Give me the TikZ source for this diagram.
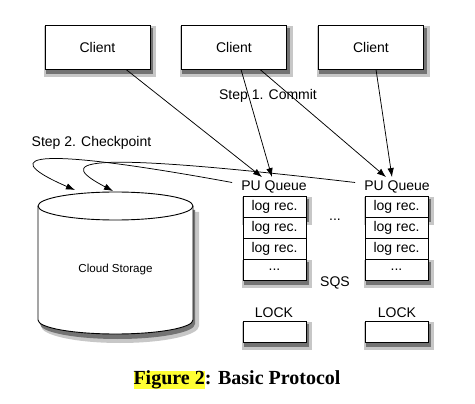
\documentclass[tikz,border=0pt]{standalone}
\usepackage{fontspec}
\setmainfont{Liberation Sans}
\newfontfamily\capfont{Liberation Serif}
\usetikzlibrary{backgrounds,arrows.meta}
\definecolor{marca}{HTML}{FFFF33}
\begin{document}
\begin{tikzpicture}[x=1pt, y=-1pt,
    every node/.style={font=\fontsize{14}{16}\selectfont, align=center},
    cliente/.style={draw, line width=0.9pt, fill=white, minimum width=105pt, minimum height=44pt},
    celda/.style={draw, line width=0.9pt, fill=white, minimum width=63pt, minimum height=21pt, inner sep=0pt},
    etiqueta/.style={inner sep=1pt},
    sombra/.style={fill=black!55, draw=none},
    sombrasuave/.style={fill=black!22, draw=none},
    flecha/.style={-{Latex[length=9pt,width=6.5pt]}, line width=0.75pt}
  ]
  \useasboundingbox (0,0) rectangle (475,404);
  % clientes
  \node[cliente] (cli1) at (97.5,47) {Client};
  \node[cliente] (cli2) at (234,47)  {Client};
  \node[cliente] (cli3) at (371,47)  {Client};
  % almacenamiento
  \fill[sombrasuave] (41,212) -- (41,326) arc[start angle=180, end angle=0, x radius=79, y radius=17] -- (199,212) -- cycle;
  \fill[sombra] (40,210) -- (40,324) arc[start angle=180, end angle=0, x radius=77.5, y radius=15] -- (195,210) -- cycle;
  \draw[line width=0.9pt, fill=white] (38,206) -- (38,320) arc[start angle=180, end angle=0, x radius=77.5, y radius=14]
    -- (193,206) arc[start angle=0, end angle=-180, x radius=77.5, y radius=14] -- cycle;
  \draw[line width=0.9pt] (38,206) arc[start angle=180, end angle=0, x radius=77.5, y radius=14];
  \node[font=\fontsize{11.6}{14}\selectfont] (almacen) at (115.5,270) {Cloud Storage};
  \coordinate (ck1) at (75,190);
  \coordinate (ck2) at (113,191);
  % colas de SQS
  \node[etiqueta] (pu1) at (274,186.5) {PU Queue};
  \node[etiqueta] (pu2) at (397,186.5) {PU Queue};
  \foreach \q/\x in {1/274.5, 2/396.5} {
    \node[celda] (c\q1) at (\x,206.5) {log rec.};
    \node[celda] (c\q2) at (\x,227.5) {log rec.};
    \node[celda] (c\q3) at (\x,248.5) {log rec.};
    \node[celda] (c\q4) at (\x,269.5) {...};
  }
  \node (puntos) at (335,220) {...};
  \node (sqs)    at (335,283) {SQS};
  % bloqueos
  \node[etiqueta] (lab1) at (274,313) {LOCK};
  \node[etiqueta] (lab2) at (397,313) {LOCK};
  \node[celda] (lock1) at (274.5,331.5) {};
  \node[celda] (lock2) at (396.5,331.5) {};
  % sombras
  \begin{pgfonlayer}{background}
    \foreach \n in {cli1,cli2,cli3,c11,c14,c21,c24,lock1,lock2} {
      \fill[sombrasuave] ([shift={(-1pt,-8pt)}]\n.south west) rectangle ([shift={(6pt,-1pt)}]\n.north east);
      \fill[sombra] ([shift={(1pt,-4.5pt)}]\n.south west) rectangle ([shift={(3pt,-3pt)}]\n.north east);
    }
  \end{pgfonlayer}
  % paso 1
  \node (paso1) at (268,96) {Step 1. Commit};
  \draw[flecha] ([xshift=28.5pt]cli1.south) -- ([xshift=-12pt,yshift=2pt]pu1.north);
  \draw[flecha] ([xshift=7pt]cli2.south) -- ([xshift=-2pt,yshift=2pt]pu1.north);
  \draw[flecha] ([xshift=26pt]cli2.south) -- ([xshift=-11pt,yshift=2pt]pu2.north);
  \draw[flecha] ([xshift=5pt]cli3.south) -- ([xshift=-5pt,yshift=2pt]pu2.north);
  % paso 2
  \node (paso2) at (91.5,143) {Step 2. Checkpoint};
  \draw[flecha] ([xshift=-8pt,yshift=4pt]pu1.west) .. controls (0,140) and (10,162) .. (ck1);
  \draw[flecha] ([xshift=-8pt,yshift=4pt]pu2.west) .. controls (60,148) and (60,163) .. (ck2);
  % pie
  \node[font=\capfont\bfseries\fontsize{20}{24}\selectfont, inner sep=0pt] (pie) at (237,380)
    {{\fboxsep=0pt\colorbox{marca}{Figure 2}}: Basic Protocol};
\end{tikzpicture}
\end{document}
